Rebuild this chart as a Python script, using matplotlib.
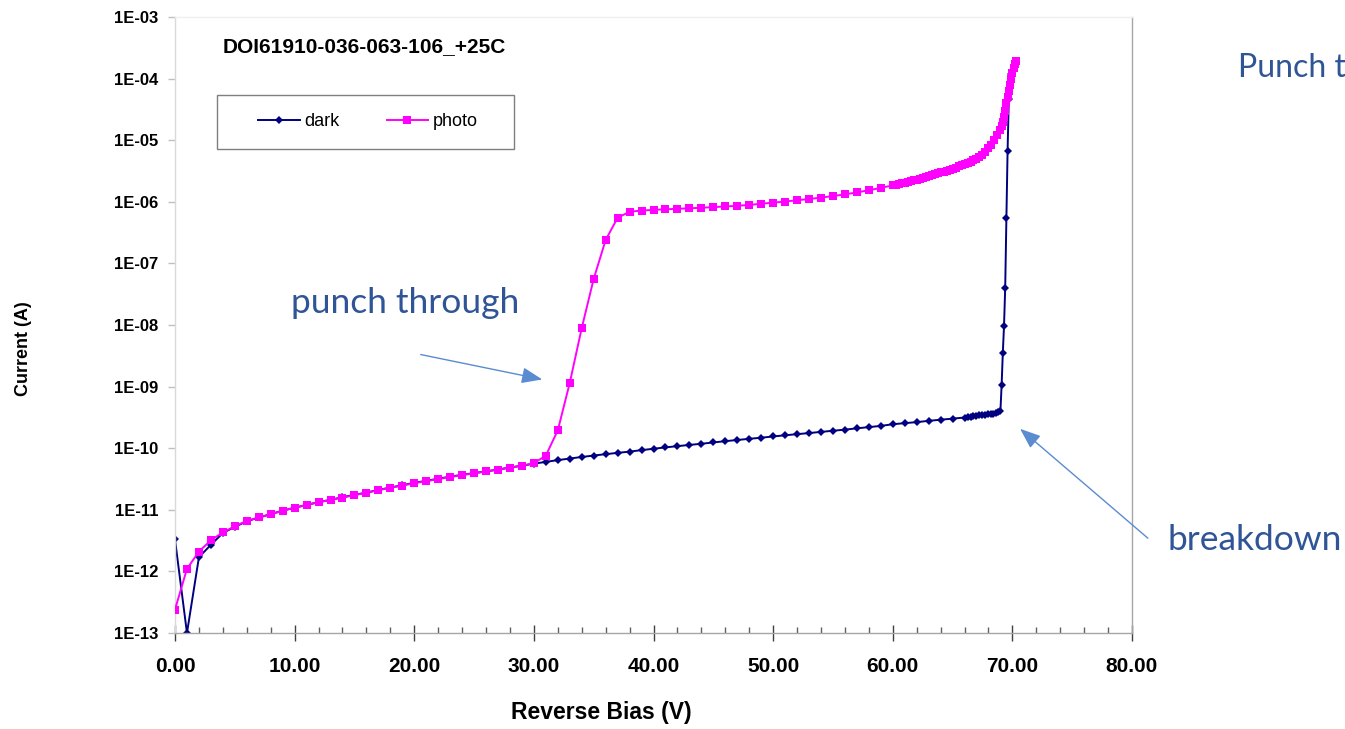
import math

import matplotlib
matplotlib.use("Agg")
import matplotlib.pyplot as plt
from matplotlib.patches import FancyArrowPatch, Rectangle
from matplotlib.ticker import FixedLocator, FuncFormatter, MultipleLocator


OUTPUT = "out.png"
FIG_W_PX, FIG_H_PX = 1345, 729
DPI = 100

# plot area in image pixels (left, top, right, bottom)
AX_PX = (175, 17, 1132, 633)

DARK_COLOR = "#000080"
PHOTO_COLOR = "#ff00ff"
NOTE_COLOR = "#2f5597"
ARROW_COLOR = "#5b8bd0"
SPINE_COLOR = "#a6a6a6"
TICK_FONT = "Liberation Sans"
NOTE_FONT = "Lato"
NOTE_SIZE = 25.5

TITLE = "DOI61910-036-063-106_+25C"

# dark current (V, A)
dark_v = [
    0, 1, 2, 3, 4, 5, 6, 7, 8, 9, 10, 11, 12, 13, 14, 15, 16, 17, 18, 19,
    20, 21, 22, 23, 24, 25, 26, 27, 28, 29, 30, 31, 32, 33, 34, 35, 36, 37, 38, 39,
    40, 41, 42, 43, 44, 45, 46, 47, 48, 49, 50, 51, 52, 53, 54, 55, 56, 57, 58, 59,
    60, 61, 62, 63, 64, 65, 66, 66.25, 66.5, 66.75, 67, 67.25, 67.5, 67.75,
    68, 68.2, 68.4, 68.6, 68.8, 69.0,
    69.1, 69.2, 69.3, 69.4, 69.5, 69.6, 69.7, 69.9,
]
dark_i = [
    3.3e-12, 1.0e-13, 1.7e-12, 2.7e-12, 4.2e-12, 5.3e-12, 6.5e-12, 7.5e-12, 8.5e-12, 9.7e-12,
    1.08e-11, 1.2e-11, 1.33e-11, 1.45e-11, 1.6e-11, 1.75e-11, 1.9e-11, 2.1e-11, 2.3e-11, 2.5e-11,
    2.75e-11, 2.95e-11, 3.2e-11, 3.45e-11, 3.7e-11, 3.95e-11, 4.2e-11, 4.5e-11, 4.85e-11, 5.2e-11,
    5.6e-11, 6.0e-11, 6.4e-11, 6.8e-11, 7.2e-11, 7.6e-11, 8.0e-11, 8.4e-11, 8.8e-11, 9.3e-11,
    9.8e-11, 1.03e-10, 1.08e-10, 1.13e-10, 1.18e-10, 1.24e-10, 1.3e-10, 1.36e-10, 1.42e-10, 1.48e-10,
    1.55e-10, 1.62e-10, 1.69e-10, 1.76e-10, 1.84e-10, 1.92e-10, 2.0e-10, 2.1e-10, 2.2e-10, 2.3e-10,
    2.45e-10, 2.55e-10, 2.65e-10, 2.78e-10, 2.9e-10, 3.02e-10, 3.15e-10, 3.2e-10, 3.25e-10, 3.3e-10,
    3.35e-10, 3.4e-10, 3.45e-10, 3.5e-10,
    3.55e-10, 3.6e-10, 3.65e-10, 3.72e-10, 3.8e-10, 4.0e-10,
    1.05e-9, 3.5e-9, 9.5e-9, 4.0e-8, 5.4e-7, 6.8e-6, 4.6e-5, 1.2e-4,
]

# photo current (V, A)
photo_v = [
    0, 1, 2, 3, 4, 5, 6, 7, 8, 9, 10, 11, 12, 13, 14, 15, 16, 17, 18, 19,
    20, 21, 22, 23, 24, 25, 26, 27, 28, 29, 30, 31, 32, 33, 34, 35, 36, 37, 38, 39,
    40, 41, 42, 43, 44, 45, 46, 47, 48, 49, 50, 51, 52, 53, 54, 55, 56, 57, 58, 59,
    60, 60.25, 60.5, 60.75, 61, 61.25, 61.5, 61.75, 62, 62.25, 62.5, 62.75,
    63, 63.25, 63.5, 63.75, 64, 64.25, 64.5, 64.75, 65, 65.25, 65.5, 65.75,
    66, 66.25, 66.5, 66.75, 67, 67.25, 67.5, 67.75, 68, 68.25, 68.5, 68.75,
    69, 69.1, 69.2, 69.3, 69.4, 69.5, 69.6, 69.7, 69.8, 69.9, 70.0, 70.1, 70.2, 70.3,
]
photo_i = [
    2.4e-13, 1.1e-12, 2.1e-12, 3.2e-12, 4.3e-12, 5.4e-12, 6.6e-12, 7.5e-12, 8.4e-12, 9.7e-12,
    1.08e-11, 1.2e-11, 1.33e-11, 1.45e-11, 1.58e-11, 1.73e-11, 1.9e-11, 2.08e-11, 2.28e-11, 2.48e-11,
    2.7e-11, 2.92e-11, 3.15e-11, 3.4e-11, 3.65e-11, 3.92e-11, 4.2e-11, 4.5e-11, 4.85e-11, 5.2e-11,
    5.7e-11, 7.6e-11, 1.95e-10, 1.15e-9, 8.9e-9, 5.6e-8, 2.4e-7, 5.5e-7, 6.9e-7, 7.2e-7,
    7.4e-7, 7.55e-7, 7.7e-7, 7.85e-7, 8.0e-7, 8.2e-7, 8.4e-7, 8.6e-7, 8.9e-7, 9.3e-7,
    9.7e-7, 1.01e-6, 1.06e-6, 1.11e-6, 1.17e-6, 1.24e-6, 1.32e-6, 1.42e-6, 1.54e-6, 1.68e-6,
    1.85e-6, 1.9e-6, 1.95e-6, 2.0e-6, 2.05e-6, 2.1e-6, 2.15e-6, 2.22e-6, 2.3e-6, 2.37e-6, 2.45e-6, 2.52e-6,
    2.6e-6, 2.7e-6, 2.8e-6, 2.9e-6, 3.0e-6, 3.1e-6, 3.2e-6, 3.32e-6, 3.45e-6, 3.6e-6, 3.75e-6, 3.92e-6,
    4.1e-6, 4.3e-6, 4.5e-6, 4.75e-6, 5.0e-6, 5.4e-6, 5.8e-6, 6.5e-6, 7.5e-6, 8.5e-6, 1.0e-5, 1.2e-5,
    1.45e-5, 1.7e-5, 2.0e-5, 2.4e-5, 3.0e-5, 4.0e-5, 5.0e-5, 6.3e-5, 8.0e-5, 1.0e-4, 1.25e-4, 1.5e-4,
    1.7e-4, 1.9e-4,
]

y_tick_exp = [-13, -12, -11, -10, -9, -8, -7, -6, -5, -4, -3]


def px(x, y):
    """image pixel (top-left origin) -> figure fraction"""
    return x / FIG_W_PX, 1.0 - y / FIG_H_PX


def setup_axes(fig):
    left, top, right, bottom = AX_PX
    x0, y1 = px(left, top)
    x1, y0 = px(right, bottom)
    ax = fig.add_axes([x0, y0, x1 - x0, y1 - y0])
    ax.set_yscale("log")
    ax.set_xlim(0, 80)
    ax.set_ylim(1e-13, 1e-3)

    for side in ("left", "bottom", "right", "top"):
        ax.spines[side].set_linewidth(1.0)
    ax.spines["left"].set_color("#d9d9d9")
    ax.spines["top"].set_color("#efefef")
    ax.spines["bottom"].set_color(SPINE_COLOR)
    ax.spines["right"].set_color(SPINE_COLOR)

    ax.yaxis.set_major_locator(FixedLocator([10.0 ** e for e in y_tick_exp]))
    ax.yaxis.set_minor_locator(FixedLocator([]))
    ax.yaxis.set_major_formatter(FuncFormatter(lambda v, pos: "1E%03d" % round(math.log10(v))))
    ax.tick_params(axis="y", which="major", direction="out", length=5, width=1,
                   color="#bfbfbf", pad=7, labelsize=12)

    ax.xaxis.set_major_locator(MultipleLocator(10))
    ax.xaxis.set_minor_locator(MultipleLocator(2))
    ax.xaxis.set_major_formatter(FuncFormatter(lambda v, pos: "%.2f" % v))
    ax.tick_params(axis="x", which="major", direction="inout", length=11, width=1,
                   color="#404040", pad=12, labelsize=15)
    ax.tick_params(axis="x", which="minor", direction="in", length=4, width=1,
                   color="#606060")

    for lab in ax.get_xticklabels() + ax.get_yticklabels():
        lab.set_fontfamily(TICK_FONT)
        lab.set_fontweight("bold")
    return ax


def draw_curves(ax):
    ax.plot(dark_v, dark_i, color=DARK_COLOR, linewidth=1.4, marker="D",
            markersize=3.8, markeredgewidth=0, label="dark", zorder=2)
    ax.plot(photo_v, photo_i, color=PHOTO_COLOR, linewidth=1.4, marker="s",
            markersize=5.5, markeredgewidth=0, label="photo", zorder=3)


def draw_legend(fig, ax):
    x0, y1 = px(217, 95)
    x1, y0 = px(514, 149)
    fig.patches.append(Rectangle((x0, y0), x1 - x0, y1 - y0, transform=fig.transFigure,
                                 facecolor="white", edgecolor="#7f7f7f", linewidth=1.0,
                                 zorder=5))
    handles, labels = ax.get_legend_handles_labels()
    cx, cy = px(368, 122)
    leg = fig.legend(handles, labels, loc="center", bbox_to_anchor=(cx, cy), ncol=2,
                     frameon=False, handlelength=2.3, handletextpad=0.25,
                     columnspacing=2.6, prop={"family": TICK_FONT, "size": 13})
    leg.set_zorder(6)


def draw_notes(fig):
    fig.text(*px(223, 47), TITLE, fontsize=15, fontweight="bold", family=TICK_FONT,
             ha="left", va="center")
    fig.text(*px(24, 349), "Current (A)", fontsize=13, fontweight="bold", family=TICK_FONT,
             rotation=90, ha="center", va="center")
    fig.text(*px(601, 713), "Reverse Bias (V)", fontsize=16.5, fontweight="bold",
             family=TICK_FONT, ha="center", va="center")

    fig.text(*px(291, 303), "punch through", fontsize=NOTE_SIZE, color=NOTE_COLOR,
             family=NOTE_FONT, ha="left", va="center")
    fig.text(*px(1168, 540), "breakdown", fontsize=NOTE_SIZE, color=NOTE_COLOR,
             family=NOTE_FONT, ha="left", va="center")
    # runs off the right edge in the original slide
    fig.text(*px(1238, 68), "Punch through", fontsize=23, color=NOTE_COLOR,
             family=NOTE_FONT, ha="left", va="center")

    arrow_style = "-|>,head_length=0.9,head_width=0.35"
    for tail, tip in (((418, 354), (545, 380)), ((1150, 540), (1018, 427))):
        fig.add_artist(FancyArrowPatch(
            px(*tail), px(*tip), transform=fig.transFigure, arrowstyle=arrow_style,
            mutation_scale=14, color=ARROW_COLOR, linewidth=1.0, zorder=7))


def main():
    fig = plt.figure(figsize=(FIG_W_PX / DPI, FIG_H_PX / DPI), dpi=DPI)
    ax = setup_axes(fig)
    draw_curves(ax)
    draw_legend(fig, ax)
    draw_notes(fig)
    fig.savefig(OUTPUT, dpi=DPI)
    plt.close(fig)


if __name__ == "__main__":
    main()
